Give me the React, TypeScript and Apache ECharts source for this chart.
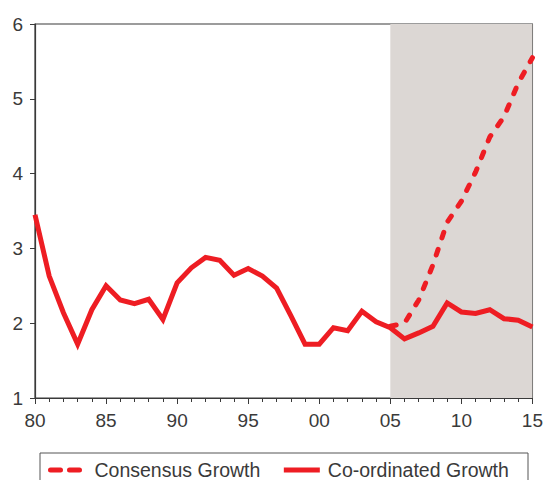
import React, { useEffect, useRef } from "react";
import * as echarts from "echarts";

const years: number[] = [
  1980, 1981, 1982, 1983, 1984, 1985, 1986, 1987, 1988, 1989,
  1990, 1991, 1992, 1993, 1994, 1995, 1996, 1997, 1998, 1999,
  2000, 2001, 2002, 2003, 2004, 2005, 2006, 2007, 2008, 2009,
  2010, 2011, 2012, 2013, 2014, 2015,
];

const coordinatedGrowth: number[] = [
  3.45, 2.63, 2.14, 1.72, 2.18, 2.5, 2.31, 2.26, 2.32, 2.05,
  2.54, 2.74, 2.88, 2.84, 2.64, 2.73, 2.63, 2.47, 2.1, 1.72,
  1.72, 1.94, 1.9, 2.16, 2.02, 1.94, 1.79, 1.87, 1.96, 2.27,
  2.15, 2.13, 2.18, 2.06, 2.04, 1.95,
];

const consensusYears: number[] = [2005, 2006, 2007, 2008, 2009, 2010, 2011, 2012, 2013, 2014, 2015];
const consensusGrowth: number[] = [1.96, 2.0, 2.31, 2.78, 3.35, 3.63, 4.02, 4.49, 4.76, 5.21, 5.55];

const forecastStart = 2005;
const forecastEnd = 2015;

const seriesNames = ["Consensus Growth", "Co-ordinated Growth"];

const RED = "#EE1D23";
const AXIS = "#3a3a3a";
const FONT = "'Liberation Sans', Arial, sans-serif";

export default function App() {
  const ref = useRef<HTMLDivElement>(null);

  useEffect(() => {
    document.body.style.margin = "0";
    if (!ref.current) return;
    const chart = echarts.init(ref.current, null, { renderer: "svg" });
    chart.setOption({
      animation: false,
      backgroundColor: "#ffffff",
      textStyle: { fontFamily: FONT },
      grid: {
        left: 35,
        right: 11,
        top: 24,
        bottom: 82,
        show: true,
        borderColor: AXIS,
        borderWidth: 1.2,
        backgroundColor: "transparent",
      },
      legend: {
        left: 48,
        top: 460,
        padding: 0,
        itemWidth: 36,
        itemHeight: 20,
        itemGap: 21,
        data: [
          { name: seriesNames[0], lineStyle: { type: [10, 9], width: 5, cap: "round" } },
          { name: seriesNames[1] },
        ],
        textStyle: { fontSize: 19.5, color: AXIS, fontFamily: FONT, padding: [0, 0, 0, 3] },
        itemStyle: { opacity: 0, borderWidth: 0 },
        lineStyle: { width: 5 },
      },
      graphic: [
        {
          type: "rect",
          shape: { x: 40, y: 453, width: 488, height: 40 },
          style: { fill: "none", stroke: "#555", lineWidth: 1 },
          silent: true,
        },
      ],
      xAxis: {
        type: "value",
        min: 1980,
        max: 2015,
        interval: 5,
        axisLine: { show: true, lineStyle: { color: AXIS, width: 1.2 } },
        axisTick: { show: true, length: 6, lineStyle: { color: AXIS } },
        minorTick: { show: true, splitNumber: 5, length: 4, lineStyle: { color: AXIS } },
        splitLine: { show: false },
        axisLabel: {
          fontSize: 19,
          color: AXIS,
          margin: 13,
          fontFamily: FONT,
          formatter: (v: number) => String(v % 100).padStart(2, "0"),
        },
      },
      yAxis: {
        type: "value",
        min: 1,
        max: 6,
        interval: 1,
        axisLine: { show: true, lineStyle: { color: AXIS, width: 1.2 } },
        axisTick: { show: true, length: 5, lineStyle: { color: AXIS } },
        splitLine: { show: false },
        axisLabel: { fontSize: 19, color: AXIS, margin: 12, fontFamily: FONT },
      },
      series: [
        {
          name: seriesNames[0],
          type: "line",
          symbol: "none",
          data: consensusYears.map((y, i) => [y, consensusGrowth[i]]),
          lineStyle: { color: RED, width: 5, type: [6, 12], cap: "round" },
          itemStyle: { color: RED },
          z: 3,
          markArea: {
            silent: true,
            itemStyle: { color: "#DCD7D4" },
            data: [[{ xAxis: forecastStart }, { xAxis: forecastEnd }]],
          },
        },
        {
          name: seriesNames[1],
          type: "line",
          symbol: "none",
          data: years.map((y, i) => [y, coordinatedGrowth[i]]),
          lineStyle: { color: RED, width: 5, join: "miter" },
          itemStyle: { color: RED },
          z: 4,
        },
      ],
    });
    return () => chart.dispose();
  }, []);

  return <div ref={ref} style={{ width: 546, height: 480 }} />;
}
